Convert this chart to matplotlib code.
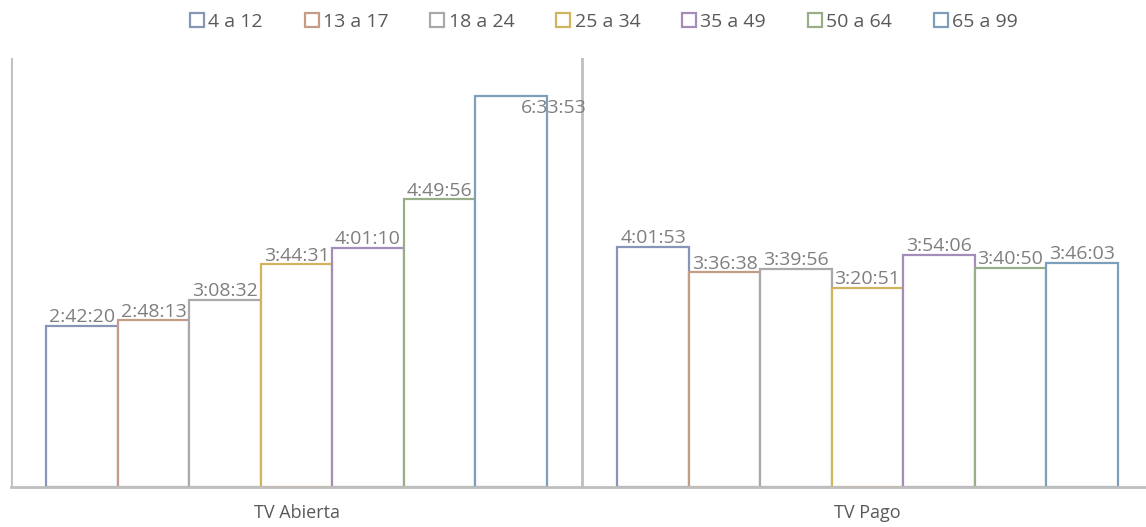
import matplotlib
matplotlib.use("Agg")
import matplotlib.pyplot as plt
from matplotlib.patches import Rectangle
import numpy as np

categories = ["TV Abierta", "TV Pago"]
series = ["4 a 12", "13 a 17", "18 a 24", "25 a 34", "35 a 49", "50 a 64", "65 a 99"]
tv_abierta = ["2:42:20", "2:48:13", "3:08:32", "3:44:31", "4:01:10", "4:49:56", "6:33:53"]
tv_pago = ["4:01:53", "3:36:38", "3:39:56", "3:20:51", "3:54:06", "3:40:50", "3:46:03"]
colors = ["#8795B6", "#C39B87", "#A9A9A9", "#D2B45E", "#A68CB8", "#97AE88", "#7E9FBC"]

def to_sec(s):
    h, m, x = map(int, s.split(":"))
    return h * 3600 + m * 60 + x

W, H = 1146, 527
fig = plt.figure(figsize=(W / 100, H / 100), dpi=100)
ax = fig.add_axes([11 / W, 1 - 487 / H, 1142 / W, 429 / H])
font = "Open Sans"
grid_c = "#BFBFBF"
text_c = "#7F7F7F"

n = len(series)
bw = 0.8765 / n
x = np.arange(len(categories))
for i, name in enumerate(series):
    vals = [to_sec(tv_abierta[i]), to_sec(tv_pago[i])]
    labs = [tv_abierta[i], tv_pago[i]]
    pos = x - 0.8765 / 2 + bw * (i + 0.5)
    ax.bar(pos, vals, width=bw, facecolor="white", edgecolor=colors[i], linewidth=1.6, zorder=3)
    for p, v, l in zip(pos, vals, labs):
        if v > 22000:
            ax.annotate(l, (p, v), xytext=(31, -2), textcoords="offset points",
                        ha="center", va="top", fontsize=14, color=text_c,
                        family=font, zorder=5)
        else:
            ax.annotate(l, (p, v), xytext=(0, -0.5), textcoords="offset points",
                        ha="center", va="bottom", fontsize=14, color=text_c,
                        family=font, zorder=5)

ax.set_xlim(-0.5, 1.5)
ax.set_ylim(0, 25920)
for s in ["top", "right", "left"]:
    ax.spines[s].set_visible(False)
ax.spines["bottom"].set_color(grid_c)
ax.spines["bottom"].set_linewidth(2)
ax.spines["bottom"].set_zorder(4)
for xv in [-0.5, 0.5, 1.5]:
    ax.axvline(xv, color=grid_c, linewidth=2, zorder=1)
ax.set_yticks([])
ax.set_xticks(x)
ax.set_xticklabels(categories, family=font, fontsize=13, color="#595959")
ax.tick_params(axis="x", length=0, pad=12)

handles = [Rectangle((0, 0), 1, 1, facecolor="white", edgecolor=c, linewidth=1.6) for c in colors]
fig.legend(handles, series, loc="upper center", bbox_to_anchor=(0.527, 1.0), ncol=n,
           frameon=False, prop={"family": font, "size": 14}, labelcolor="#595959",
           handlelength=0.72, handleheight=0.72, handletextpad=0.22, columnspacing=2.15,
           borderaxespad=0.25)

fig.savefig("out.png", dpi=100, facecolor="white")
